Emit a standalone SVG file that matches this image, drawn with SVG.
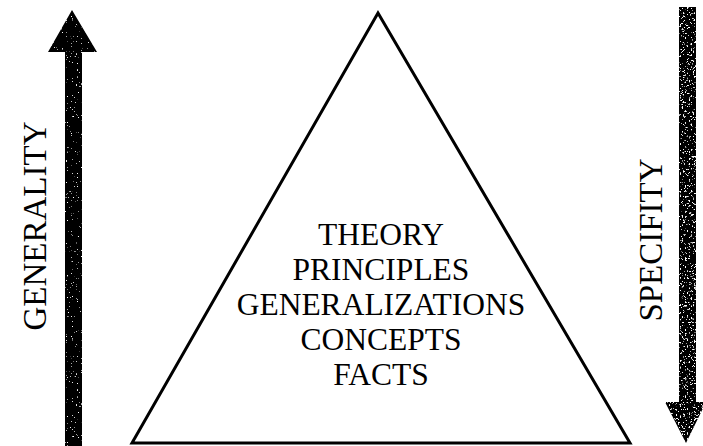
<svg xmlns="http://www.w3.org/2000/svg" width="703" height="446" viewBox="0 0 703 446">
  <defs>
    <filter id="speckLight" x="0" y="0" width="100%" height="100%">
      <feTurbulence type="fractalNoise" baseFrequency="0.8" numOctaves="1" seed="4" result="n"/>
      <feColorMatrix in="n" type="matrix" values="0 0 0 0 1  0 0 0 0 1  0 0 0 0 1  14 0 0 0 -9.6" result="spots"/>
      <feComposite in="spots" in2="SourceGraphic" operator="atop"/>
    </filter>
    <filter id="speckHeavy" x="0" y="0" width="100%" height="100%">
      <feTurbulence type="fractalNoise" baseFrequency="0.55" numOctaves="2" seed="9" result="n"/>
      <feColorMatrix in="n" type="matrix" values="0 0 0 0 1  0 0 0 0 1  0 0 0 0 1  12 0 0 0 -7.4" result="spots"/>
      <feComposite in="spots" in2="SourceGraphic" operator="atop"/>
    </filter>
  </defs>
  <style>
    .lbl { font-family: "Liberation Serif", "Times New Roman", serif; font-size: 31.5px; fill: #000; text-anchor: middle; }
    .side { font-size: 33px; }
    .tri { fill: none; stroke: #000; stroke-width: 3; stroke-linejoin: miter; }
  </style>
  <rect width="703" height="446" fill="#fff"/>

  <g id="generality">
    <polygon points="72,10 97,52 82,52 82,446 65,446 65,52 48,52" fill="#000" filter="url(#speckLight)"/>
    <text class="lbl side" transform="translate(46,226) rotate(-90)">GENERALITY</text>
  </g>

  <g id="pyramid">
    <polygon class="tri" points="378,13 630,443 132,443"/>
    <text class="lbl" x="381" y="245">THEORY</text>
    <text class="lbl" x="381" y="280">PRINCIPLES</text>
    <text class="lbl" x="381" y="315">GENERALIZATIONS</text>
    <text class="lbl" x="381" y="350">CONCEPTS</text>
    <text class="lbl" x="381" y="385">FACTS</text>
  </g>

  <g id="specifity">
    <polygon points="679,7 696,7 696,402 706,402 686,443 665,402 679,402" fill="#000" filter="url(#speckHeavy)"/>
    <text class="lbl side" transform="translate(662,240) rotate(-90)">SPECIFITY</text>
  </g>

  <g id="connectors"></g>
</svg>
